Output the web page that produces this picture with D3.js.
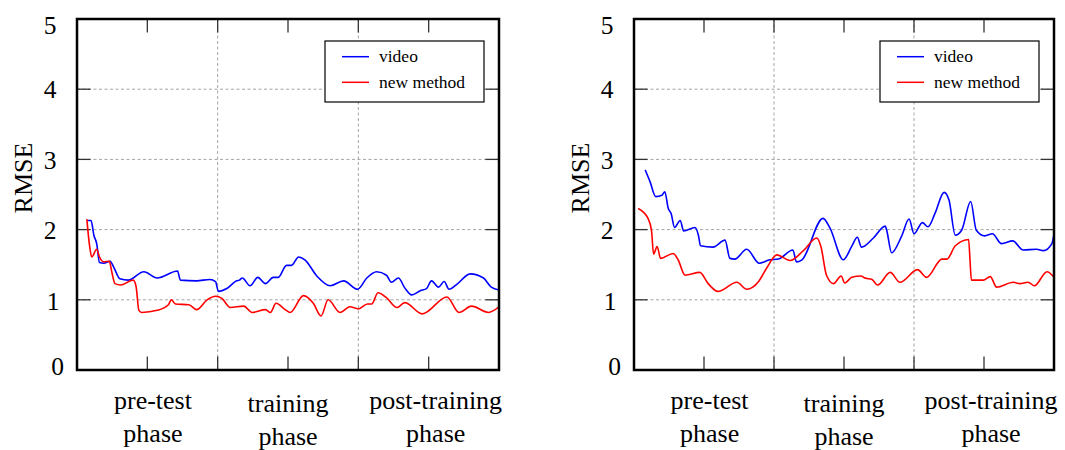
<!DOCTYPE html>
<html>
<head>
<meta charset="utf-8">
<script src="https://cdn.jsdelivr.net/npm/d3@7"></script>
<style>
  html, body { margin: 0; padding: 0; background: #fff; }
  svg { display: block; }
  text { font-family: "Liberation Serif", "Times New Roman", "DejaVu Serif", serif; fill: #000; }
</style>
</head>
<body>
<svg id="chart" width="1065" height="450"></svg>
<script>
// ---------- data ----------
const phaseLabels = [["pre-test", "phase"], ["training", "phase"], ["post-training", "phase"]];
const phaseLabelPos = [1.08, 3, 5.1];
const yTicks = [0, 1, 2, 3, 4, 5];
const xTicks = [1, 2, 3, 4, 5];
const xGrid = [2, 4];
const yGrid = [1, 2, 3, 4];
const seriesNames = ["video", "new method"];
const seriesColors = ["#0000ff", "#ff0000"];

// left panel, video
const leftVideoX = [0.15,0.20,0.24,0.28,0.32,0.38,0.47,0.52,0.61,0.73,0.95,1.14,1.43,1.47,1.70,1.89,1.97,2.01,2.13,2.27,2.31,2.35,2.46,2.57,2.68,2.79,2.86,2.98,3.05,3.15,3.24,3.41,3.60,3.79,3.99,4.12,4.26,4.40,4.47,4.57,4.66,4.76,4.88,4.97,5.04,5.14,5.22,5.29,5.40,5.59,5.78,5.89,6.00];
const leftVideoY = [2.13,2.13,1.92,1.80,1.53,1.52,1.55,1.47,1.30,1.28,1.40,1.31,1.41,1.28,1.27,1.29,1.26,1.12,1.16,1.27,1.28,1.31,1.20,1.32,1.23,1.32,1.32,1.49,1.49,1.61,1.57,1.34,1.20,1.27,1.15,1.31,1.40,1.35,1.25,1.31,1.17,1.07,1.13,1.16,1.27,1.18,1.26,1.15,1.22,1.37,1.31,1.18,1.14];
// left panel, new method
const leftNewX = [0.14,0.18,0.21,0.28,0.32,0.38,0.46,0.49,0.54,0.62,0.76,0.80,0.84,0.88,0.92,1.14,1.30,1.34,1.40,1.59,1.70,1.85,1.97,2.06,2.18,2.37,2.49,2.68,2.75,2.83,2.96,3.03,3.22,3.36,3.47,3.57,3.74,3.88,4.00,4.13,4.19,4.28,4.40,4.55,4.66,4.91,5.26,5.43,5.61,5.85,6.00];
const leftNewY = [2.15,1.76,1.61,1.72,1.61,1.54,1.55,1.42,1.23,1.21,1.27,1.28,1.19,0.85,0.82,0.85,0.93,1.00,0.94,0.93,0.86,1.00,1.05,1.02,0.89,0.91,0.82,0.86,0.82,0.95,0.86,0.82,1.06,0.95,0.77,1.00,0.82,0.90,0.87,0.94,0.94,1.10,1.03,0.89,0.96,0.80,1.04,0.82,0.91,0.82,0.90];

// right panel, video
const rightVideoX = [0.16,0.23,0.31,0.40,0.44,0.49,0.53,0.58,0.66,0.71,0.87,0.92,0.95,1.13,1.30,1.37,1.44,1.61,1.79,1.94,2.06,2.27,2.32,2.40,2.70,2.80,2.99,3.11,3.19,3.25,3.42,3.59,3.61,3.68,3.82,3.93,4.00,4.12,4.20,4.30,4.43,4.50,4.59,4.68,4.81,4.89,5.01,5.12,5.25,5.41,5.56,5.75,5.85,5.97,6.00];
const rightVideoY = [2.85,2.68,2.47,2.49,2.54,2.30,2.23,2.03,2.13,1.98,2.03,1.92,1.77,1.75,1.85,1.59,1.58,1.72,1.52,1.57,1.58,1.71,1.54,1.57,2.16,2.02,1.57,1.76,1.89,1.75,1.88,2.05,1.99,1.67,1.90,2.15,1.94,2.10,2.04,2.23,2.53,2.42,1.92,1.99,2.40,1.99,1.91,1.94,1.80,1.84,1.71,1.72,1.70,1.80,1.94];
// right panel, new method
const rightNewX = [0.06,0.20,0.25,0.28,0.33,0.38,0.56,0.63,0.73,0.94,1.06,1.20,1.47,1.61,1.78,1.90,2.04,2.23,2.42,2.61,2.67,2.75,2.85,2.96,3.01,3.11,3.24,3.30,3.40,3.48,3.66,3.80,4.05,4.18,4.40,4.47,4.59,4.78,4.80,4.82,4.99,5.09,5.18,5.42,5.51,5.63,5.72,5.90,6.00];
const rightNewY = [2.30,2.16,1.99,1.65,1.76,1.59,1.66,1.57,1.35,1.39,1.23,1.12,1.25,1.15,1.26,1.46,1.64,1.56,1.70,1.88,1.76,1.35,1.23,1.34,1.24,1.32,1.34,1.31,1.29,1.21,1.39,1.25,1.43,1.32,1.58,1.58,1.77,1.86,1.57,1.28,1.28,1.33,1.18,1.25,1.23,1.25,1.20,1.40,1.32];

// ---------- drawing ----------
const svg = d3.select("#chart");
const plotTop = 19, plotBottom = 370;

function zip(xs, ys) { return xs.map((x, i) => ({ x: x, y: ys[i] })); }

function drawPanel(left, right, series) {
  const g = svg.append("g");
  const x = d3.scaleLinear().domain([0, 6]).range([left, right]);
  const y = d3.scaleLinear().domain([0, 5]).range([plotBottom, plotTop]);

  // grid
  g.selectAll(".hg").data(yGrid).enter().append("line")
    .attr("x1", left).attr("x2", right)
    .attr("y1", d => y(d)).attr("y2", d => y(d))
    .attr("stroke", "#9a9a9a").attr("stroke-width", 0.9).attr("stroke-dasharray", "3,2.5");
  g.selectAll(".vg").data(xGrid).enter().append("line")
    .attr("y1", plotTop).attr("y2", plotBottom)
    .attr("x1", d => x(d)).attr("x2", d => x(d))
    .attr("stroke", "#9a9a9a").attr("stroke-width", 0.9).attr("stroke-dasharray", "3,2.5");

  // ticks (inside, on all four sides)
  const tl = 13.5;
  xTicks.forEach(t => {
    g.append("line").attr("x1", x(t)).attr("x2", x(t)).attr("y1", plotBottom).attr("y2", plotBottom - tl)
      .attr("stroke", "#333").attr("stroke-width", 1.3);
    g.append("line").attr("x1", x(t)).attr("x2", x(t)).attr("y1", plotTop).attr("y2", plotTop + tl)
      .attr("stroke", "#333").attr("stroke-width", 1.3);
  });
  yGrid.forEach(t => {
    g.append("line").attr("x1", left).attr("x2", left + tl).attr("y1", y(t)).attr("y2", y(t))
      .attr("stroke", "#333").attr("stroke-width", 1.3);
    g.append("line").attr("x1", right).attr("x2", right - tl).attr("y1", y(t)).attr("y2", y(t))
      .attr("stroke", "#333").attr("stroke-width", 1.3);
  });

  // y tick labels
  const gap = d => (d === 0 ? 13 : d === 1 ? 17.5 : 20.5);
  g.selectAll(".yl").data(yTicks).enter().append("text")
    .attr("x", d => left - gap(d))
    .attr("y", d => y(d) + (d === 5 ? 5.5 : d === 0 ? -4.5 : d === 1 ? 1.5 : 0))
    .attr("dy", "0.36em")
    .attr("text-anchor", "end")
    .attr("font-size", 25.5)
    .text(d => d);

  // y axis title
  g.append("text")
    .attr("transform", `translate(${left - 45.5},178) rotate(-90)`)
    .attr("text-anchor", "middle")
    .attr("font-size", 26)
    .text("RMSE");

  // phase labels
  phaseLabels.forEach((lines, i) => {
    const t = g.append("text").attr("text-anchor", "middle").attr("font-size", 26);
    const off = i === 1 ? 2.5 : 0;
    lines.forEach((s, j) => {
      t.append("tspan").attr("x", x(phaseLabelPos[i])).attr("y", 409 + off + j * 33).text(s);
    });
  });

  // curves
  const line = d3.line().x(d => x(d.x)).y(d => y(d.y)).curve(d3.curveMonotoneX);
  const clipId = "clip" + left;
  svg.append("clipPath").attr("id", clipId).append("rect")
    .attr("x", left).attr("y", plotTop).attr("width", right - left).attr("height", plotBottom - plotTop);
  series.forEach((s, i) => {
    g.append("path").datum(s)
      .attr("clip-path", `url(#${clipId})`)
      .attr("d", line)
      .attr("fill", "none")
      .attr("stroke", seriesColors[i])
      .attr("stroke-width", 1.6)
      .attr("stroke-linejoin", "round");
  });

  // legend
  const lw = 159, lh = 61;
  const lx = right - 15 - lw, ly = plotTop + 22;
  const lg = g.append("g").attr("transform", `translate(${lx},${ly})`);
  lg.append("rect").attr("width", lw).attr("height", lh)
    .attr("fill", "#fff").attr("stroke", "#000").attr("stroke-width", 1.2);
  seriesNames.forEach((n, i) => {
    lg.append("line").attr("x1", 17).attr("x2", 44)
      .attr("y1", 15.7 + i * 25.6).attr("y2", 15.7 + i * 25.6)
      .attr("stroke", seriesColors[i]).attr("stroke-width", 1.5);
    lg.append("text").attr("x", 54).attr("y", 21.3 + i * 25.3)
      .attr("font-size", 17.5).text(n);
  });

  // frame
  g.append("rect").attr("x", left).attr("y", plotTop)
    .attr("width", right - left).attr("height", plotBottom - plotTop)
    .attr("fill", "none").attr("stroke", "#000").attr("stroke-width", 2.5);
}

drawPanel(77, 499, [zip(leftVideoX, leftVideoY), zip(leftNewX, leftNewY)]);
drawPanel(634, 1054, [zip(rightVideoX, rightVideoY), zip(rightNewX, rightNewY)]);
</script>
</body>
</html>
